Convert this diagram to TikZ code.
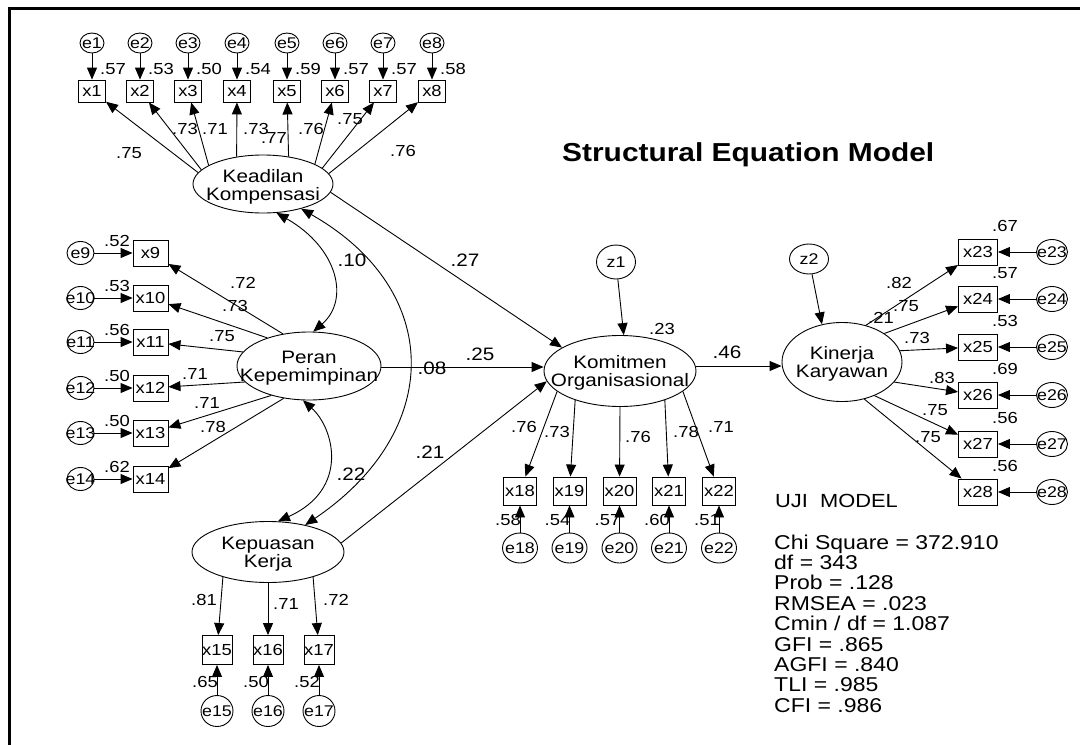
\documentclass[tikz,border=0pt]{standalone}
\usepackage{fontspec}
\setmainfont{Liberation Sans}[FakeStretch=1.15]
\usetikzlibrary{shapes.geometric,arrows.meta}
\newcommand{\zbx}[1]{\makebox[0pt]{#1}}
\begin{document}
\begin{tikzpicture}[x=1pt,y=-1pt,
  >={Triangle[length=12pt,width=10pt]},
  lat/.style={ellipse,draw,line width=0.9pt,inner sep=0pt},
  ltx/.style={font=\fontsize{18}{17.5}\selectfont,align=center,inner sep=0pt},
  obs/.style={rectangle,draw,line width=0.9pt,inner sep=0pt,font=\fontsize{16}{16}\selectfont},
  err/.style={ellipse,draw,line width=0.9pt,inner sep=0pt,font=\fontsize{15.5}{16}\selectfont},
  lab/.style={inner sep=0pt,font=\fontsize{16}{16}\selectfont},
  big/.style={inner sep=0pt,font=\fontsize{18}{18}\selectfont},
  arr/.style={->,line width=0.9pt},
  darr/.style={<->,line width=0.9pt},
  stat/.style={inner sep=0pt,anchor=base west,font=\fontsize{20}{20}\selectfont}]
\useasboundingbox (0,0) rectangle (1080,745);
\fill[white] (0,0) rectangle (1080,745);
% frame
\draw[line width=2.5pt,line join=miter] (9.3,760) -- (9.3,8.3) -- (1090,8.3);

% latent variables
\node[lat,minimum width=140pt,minimum height=58pt] (kead) at (263,184) {};
\node[ltx] (keadt) at (263,187) {Keadilan\\Kompensasi};
\node[lat,minimum width=144pt,minimum height=68pt] (per) at (309,366) {};
\node[ltx] (pert) at (309,368) {Peran\\Kepemimpinan};
\node[lat,minimum width=152pt,minimum height=61pt] (kep) at (268,552) {};
\node[ltx] (kept) at (268,554) {Kepuasan\\Kerja};
\node[lat,minimum width=152pt,minimum height=71pt] (kom) at (620,371) {};
\node[ltx] (komt) at (620,373) {Komitmen\\Organisasional};
\node[lat,minimum width=120pt,minimum height=79pt] (kin) at (842,362) {};
\node[ltx] (kint) at (842,364) {Kinerja\\Karyawan};

\node[err,minimum width=39pt,minimum height=34pt] (z1) at (616,262) {z1};
\node[err,minimum width=39pt,minimum height=30pt] (z2) at (809,259) {z2};

% top indicators
\foreach \i/\x/\rv/\a in {1/92/.57/170,2/140/.53/167,3/188/.50/161,4/237/.54/134,5/287/.59/47,6/335/.57/21,7/383/.57/15,8/432/.58/9}{
  \node[err,minimum width=24pt,minimum height=20pt] (e\i) at (\x,43) {\zbx{e\i}};
  \node[obs,minimum width=27pt,minimum height=22pt] (x\i) at (\x,91) {x\i};
  \draw[arr] (e\i) -- (x\i);
  \node[lab] (r\i) at (\x+21,69) {\rv};
  \draw[arr] (kead.\a) -- (x\i);
}
\foreach \n/\x/\y/\t in {1/129/153/.75,2/185/129/.73,3/215/129/.71,4/256/129/.73,5/274/138/.77,6/311/129/.76,7/350/119/.75,8/403/151/.76}{
  \node[lab] (l\n) at (\x,\y) {\t};
}

% left indicators
\foreach \i/\y/\rv/\a in {9/253/.52/129,10/298/.53/146,11/342/.56/168,12/388/.50/194,13/433/.50/218,14/479/.62/232}{
  \node[err,minimum width=27pt,minimum height=23pt] (e\i) at (80.5,\y) {\zbx{e\i}};
  \node[obs,minimum width=35pt,minimum height=26pt] (x\i) at (150.5,\y) {x\i};
  \draw[arr] (e\i) -- (x\i);
  \node[lab] (r\i) at (117,\y-12) {\rv};
  \draw[arr] (per.\a) -- (x\i);
}
\foreach \n/\x/\y/\t in {9/243/283/.72,10/235/306/.73,11/222/336/.75,12/195/374/.71,13/207/403/.71,14/213/427/.78}{
  \node[lab] (l\n) at (\x,\y) {\t};
}

% Kepuasan indicators
\foreach \i/\x/\rv/\a in {15/217/.65/209,16/268/.50/270,17/319/.52/331.5}{
  \node[obs,minimum width=30pt,minimum height=29pt] (x\i) at (\x,650) {x\i};
  \node[err,minimum width=32pt,minimum height=31pt] (e\i) at (\x,711) {\zbx{e\i}};
  \draw[arr] (e\i) -- (x\i);
  \node[lab,anchor=east] (r\i) at (\x+1,682) {\rv};
  \draw[arr] (kep.\a) -- (x\i);
}
\node[lab] (l15) at (204,600) {.81};
\node[lab] (l16) at (286,604) {.71};
\node[lab] (l17) at (336,600) {.72};

% Komitmen indicators
\foreach \i/\x/\rv/\a in {18/520/.58/198,19/569.5/.54/213,20/619.5/.57/270,21/669/.60/327,22/719/.51/342.5}{
  \node[obs,minimum width=33pt,minimum height=28pt] (x\i) at (\x,491) {x\i};
  \node[err,minimum width=35pt,minimum height=30pt] (e\i) at (\x,548) {\zbx{e\i}};
  \draw[arr] (e\i) -- (x\i);
  \node[lab,anchor=east] (r\i) at (\x+1,520) {\rv};
  \draw[arr] (kom.\a) -- (x\i);
}
\foreach \n/\x/\y/\t in {18/524/427/.76,19/557/432/.73,20/638/437/.76,21/686/432/.78,22/721/427/.71}{
  \node[lab] (l\n) at (\x,\y) {\t};
}

% Kinerja indicators
\foreach \i/\y/\rv/\a in {23/252/.67/57,24/299/.57/34,25/347/.53/11,26/395/.69/-21,27/444/.56/-46,28/492/.56/-59}{
  \node[obs,minimum width=39pt,minimum height=26pt] (x\i) at (978,\y) {x\i};
  \node[err,minimum width=31pt,minimum height=25pt] (e\i) at (1052,\y) {\zbx{e\i}};
  \draw[arr] (e\i) -- (x\i);
  \node[lab] (r\i) at (1005,\y-26) {\rv};
  \draw[arr] (kin.\a) -- (x\i);
}
\foreach \n/\x/\y/\t in {23/899/283/.82,24/906/306/.75,25/917/338/.73,26/942/378/.83,27/935/410/.75,28/928/437/.75}{
  \node[lab] (l\n) at (\x,\y) {\t};
}

% structural paths
\draw[arr] (kead.-7) -- (kom.158);
\draw[arr] (per.east |- 0,367) -- (kom.west |- 0,367);
\draw[arr] (kep.7) -- (kom.188);
\draw[arr] (kom.east |- 0,366) -- (kin.west |- 0,366);
\draw[arr] (z1) -- (kom.84);
\draw[arr] (z2) -- (kin.118);

% covariances
\draw[darr] (kead.-65) .. controls (338,248) and (350,300) .. (per.83);
\draw[darr] (per.260) .. controls (334,428) and (350,489) .. (kep.72);
\draw[darr] (kead.-33) .. controls (444,290) and (444,431) .. (kep.36);

% structural labels
\node[big] (s1) at (465,260) {.27};
\node[big] (s2) at (480,354) {.25};
\node[big] (s3) at (432,368) {.08};
\node[big] (s4) at (430,452) {.21};
\node[big] (s5) at (727,352) {.46};
\node[big] (s6) at (352,260) {.10};
\node[big] (s7) at (351,474) {.22};
\node[lab] (s8) at (662,329) {.23};
\node[lab] (s9) at (881,318) {.21};

% title and fit
\node[inner sep=0pt,anchor=base west,font=\fontsize{26}{26}\selectfont\bfseries] (title) at (562,161) {Structural Equation Model};
\node[inner sep=0pt,anchor=base west,font=\fontsize{19}{19}\selectfont] (uji) at (775,507) {UJI\ \ MODEL};
\node[stat] (st1) at (774,549) {Chi Square = 372.910};
\node[stat] (st2) at (774,569.4) {df = 343};
\node[stat] (st3) at (774,589.8) {Prob = .128};
\node[stat] (st4) at (774,610.2) {RMSEA = .023};
\node[stat] (st5) at (774,630.6) {Cmin / df = 1.087};
\node[stat] (st6) at (774,651) {GFI = .865};
\node[stat] (st7) at (774,671.4) {AGFI = .840};
\node[stat] (st8) at (774,691.8) {TLI = .985};
\node[stat] (st9) at (774,712.2) {CFI = .986};
\end{tikzpicture}
\end{document}
